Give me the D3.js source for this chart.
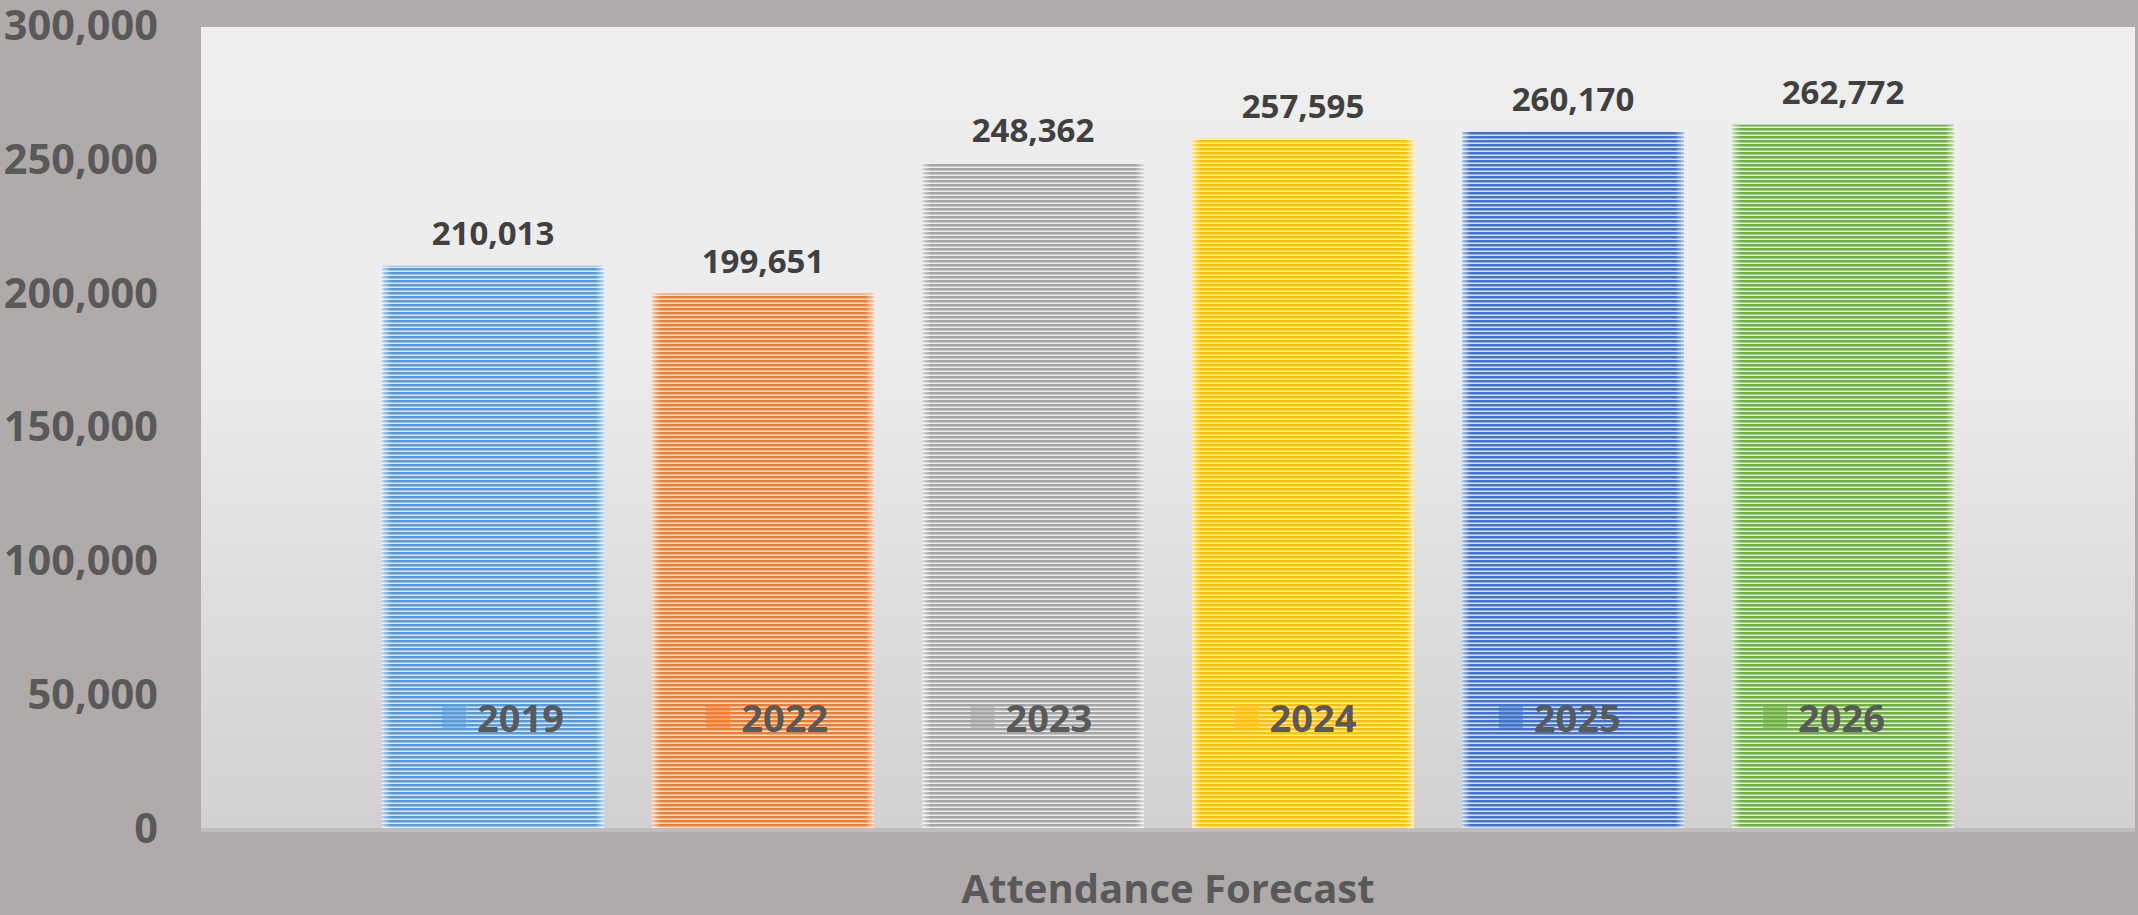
<!DOCTYPE html>
<html>
<head>
<meta charset="utf-8">
<script src="https://cdn.jsdelivr.net/npm/d3@7"></script>
<style>
  body { margin: 0; background: #afabab; overflow: hidden; }
  text { font-family: "Open Sans", sans-serif; font-weight: bold; }
</style>
</head>
<body>
<div id="chart"></div>
<script>
// attendance by year (one category, one series per year)
var years = ["2019", "2022", "2023", "2024", "2025", "2026"];
var attendance = [210013, 199651, 248362, 257595, 260170, 262772];
var colors = ["#5b9bd5", "#ed7d31", "#a5a5a5", "#ffc000", "#4472c4", "#70ad47"];
var yTicks = [0, 50000, 100000, 150000, 200000, 250000, 300000];
var title = "Attendance Forecast";

var width = 2138, height = 915;
var plot = {left: 201, right: 2135, top: 27, bottom: 828};

var svg = d3.select("#chart").append("svg")
  .attr("width", width).attr("height", height);

var defs = svg.append("defs");

// plot background gradient
var bg = defs.append("linearGradient").attr("id", "plotBg")
  .attr("x1", 0).attr("y1", 0).attr("x2", 0).attr("y2", 1);
bg.append("stop").attr("offset", "0%").attr("stop-color", "#eeeeee");
bg.append("stop").attr("offset", "40%").attr("stop-color", "#ececec");
bg.append("stop").attr("offset", "100%").attr("stop-color", "#d2d0d0");

// soft edges on bars
var edge = defs.append("linearGradient").attr("id", "edgeFade")
  .attr("x1", 0).attr("y1", 0).attr("x2", 1).attr("y2", 0);
[[0, 0.6], [0.04, 0], [0.96, 0], [1, 0.6]].forEach(function(s){
  edge.append("stop").attr("offset", s[0]).attr("stop-color", "#fff").attr("stop-opacity", s[1]);
});

// striped fill per year
years.forEach(function(y, i){
  var p = defs.append("pattern").attr("id", "stripe" + y)
    .attr("patternUnits", "userSpaceOnUse")
    .attr("width", 8).attr("height", 4);
  p.append("rect").attr("width", 8).attr("height", 4)
    .attr("fill", d3.interpolateRgb(colors[i], "#ffffff")(0.8));
  p.append("rect").attr("width", 8).attr("height", 2.5).attr("fill", colors[i]);
});

svg.append("rect")
  .attr("x", plot.left).attr("y", plot.top)
  .attr("width", plot.right - plot.left).attr("height", plot.bottom - plot.top)
  .attr("fill", "url(#plotBg)");

// floor
svg.append("rect")
  .attr("x", plot.left).attr("y", plot.bottom)
  .attr("width", plot.right - plot.left).attr("height", 4)
  .attr("fill", "#bfbdbd");

var y = d3.scaleLinear().domain([0, 300000]).range([plot.bottom, 25]);

var cx = (plot.left + plot.right) / 2;
var step = 270;
var x = d3.scaleBand().domain(years)
  .range([cx - 3 * step, cx + 3 * step])
  .paddingInner(0.178).paddingOuter(0.089);

// y axis labels
svg.selectAll(".ytick").data(yTicks).enter()
  .append("text")
  .attr("class", "ytick")
  .attr("x", 158)
  .attr("y", function(d){ return y(d); })
  .attr("dy", "0.36em")
  .attr("text-anchor", "end")
  .attr("font-size", 41.5)
  .attr("fill", "#595959")
  .text(d3.format(","));

var bars = svg.selectAll(".bar").data(years).enter()
  .append("g").attr("class", "bar");

bars.append("rect")
  .attr("x", function(d){ return x(d); })
  .attr("y", function(d, i){ return y(attendance[i]); })
  .attr("width", x.bandwidth())
  .attr("height", function(d, i){ return plot.bottom - y(attendance[i]); })
  .attr("fill", function(d){ return "url(#stripe" + d + ")"; });

bars.append("rect")
  .attr("x", function(d){ return x(d); })
  .attr("y", function(d, i){ return y(attendance[i]); })
  .attr("width", x.bandwidth())
  .attr("height", function(d, i){ return plot.bottom - y(attendance[i]); })
  .attr("fill", "url(#edgeFade)");

bars.append("text")
  .attr("x", function(d){ return x(d) + x.bandwidth() / 2; })
  .attr("y", function(d, i){ return y(attendance[i]) - 21; })
  .attr("text-anchor", "middle")
  .attr("font-size", 33)
  .attr("fill", "#404040")
  .text(function(d, i){ return d3.format(",")(attendance[i]); });

// legend
var legendStep = 264.2;
var legendX = d3.scaleLinear().domain([0, years.length - 1])
  .range([442, 442 + legendStep * (years.length - 1)]);
var legend = svg.selectAll(".legend").data(years).enter()
  .append("g").attr("class", "legend")
  .attr("transform", function(d, i){ return "translate(" + legendX(i) + ",718)"; });

legend.append("rect")
  .attr("x", 0).attr("y", -12)
  .attr("width", 24).attr("height", 24)
  .attr("fill", function(d, i){ return colors[i]; })
  .attr("opacity", 0.55);

legend.append("text")
  .attr("x", 35).attr("y", 0)
  .attr("dy", "0.36em")
  .attr("font-size", 38)
  .attr("fill", "#595959")
  .text(function(d){ return d; });

// axis title
svg.append("text")
  .attr("x", cx).attr("y", 903)
  .attr("text-anchor", "middle")
  .attr("font-size", 40)
  .attr("fill", "#595959")
  .text(title);
</script>
</body>
</html>
